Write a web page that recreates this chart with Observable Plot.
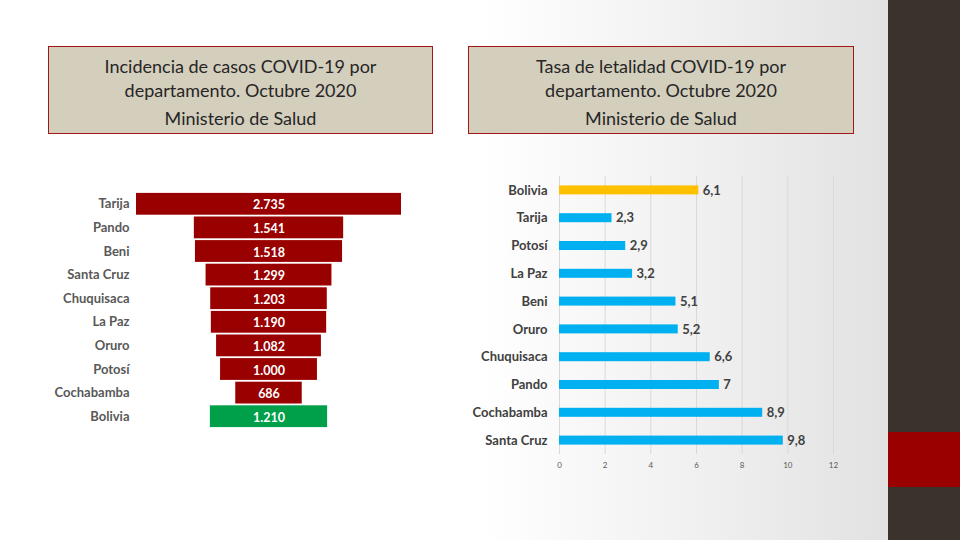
<!DOCTYPE html>
<html><head><meta charset="utf-8">
<script src="https://cdn.jsdelivr.net/npm/d3@7"></script>
<script src="https://cdn.jsdelivr.net/npm/@observablehq/plot@0.6"></script>
<style>
html,body{margin:0;padding:0;}
body{width:960px;height:540px;position:relative;overflow:hidden;font-family:Lato,"Open Sans",sans-serif;
 background:linear-gradient(to right,#ffffff 0px,#ffffff 480px,#f0f0f0 700px,#e2e2e2 888px);}
.band{position:absolute;left:888px;top:0;width:72px;height:540px;background:#3a322d;}
.redblock{position:absolute;left:888px;top:432px;width:72px;height:55px;background:#990000;}
.tbox{position:absolute;top:46px;height:88px;background:#d4cebd;border:1px solid #a01818;box-sizing:border-box;
 text-align:center;color:#262626;font-size:18px;line-height:24px;padding-top:7px;}
.tbox .src{margin-top:4px;}
#left{position:absolute;left:0;top:180px;}
#right{position:absolute;left:460px;top:170px;}
svg{display:block;}
</style></head>
<body>
<div class="band"></div><div class="redblock"></div>
<div class="tbox" style="left:48px;width:385px;">Incidencia de casos COVID-19 por<br>departamento. Octubre 2020<div class="src">Ministerio de Salud</div></div>
<div class="tbox" style="left:468px;width:386px;">Tasa de letalidad COVID-19 por<br>departamento. Octubre 2020<div class="src">Ministerio de Salud</div></div>
<div id="left"></div>
<div id="right"></div>
<script>
const incCats = ["Tarija","Pando","Beni","Santa Cruz","Chuquisaca","La Paz","Oruro","Potosí","Cochabamba","Bolivia"];
const incVals = [2735,1541,1518,1299,1203,1190,1082,1000,686,1210];
const letCats = ["Bolivia","Tarija","Potosí","La Paz","Beni","Oruro","Chuquisaca","Pando","Cochabamba","Santa Cruz"];
const letVals = [6.1,2.3,2.9,3.2,5.1,5.2,6.6,7,8.9,9.8];
const letTicks = [0,2,4,6,8,10,12];

const loc = d3.formatLocale({decimal:",",thousands:".",grouping:[3],currency:["",""]});
const fmtInc = loc.format(",d");
const fmtLet = v => String(v).replace(".", ",");

const inc = incCats.map((c,i)=>({cat:c,v:incVals[i]}));
const let_ = letCats.map((c,i)=>({cat:c,v:letVals[i]}));

const half = 1367.5;
const left = Plot.plot({
  width:460,height:260,marginLeft:136,marginRight:59,marginTop:12,marginBottom:12,
  style:{background:"transparent",fontFamily:"Lato, sans-serif"},
  x:{domain:[-half,half],axis:null},
  y:{domain:incCats,padding:0,round:false,label:null},
  marks:[
    Plot.barX(inc,{x1:d=>-d.v/2,x2:d=>d.v/2,y:"cat",insetTop:0.9,insetBottom:0.9,fill:d=>d.cat==="Bolivia"?"#00a04b":"#990000"}),
    Plot.text(inc,{x:0,y:"cat",text:d=>fmtInc(d.v),fill:"white",fontWeight:"bold",fontSize:12.5,dy:1}),
    Plot.axisY({tickSize:0,tickPadding:7,fontSize:13,fontWeight:"bold",color:"#595959",label:null})
  ]
});
document.getElementById("left").appendChild(left);

const right = Plot.plot({
  width:420,height:310,marginLeft:99,marginRight:47,marginTop:6,marginBottom:26,
  style:{background:"transparent",fontFamily:"Lato, sans-serif"},
  x:{domain:[0,12],label:null},
  y:{domain:letCats,padding:0,round:false,label:null},
  marks:[
    Plot.ruleX(letTicks,{stroke:"#d9d9d9",strokeWidth:1}),
    Plot.barX(let_,{x:"v",y:"cat",insetTop:9.4,insetBottom:9.4,fill:d=>d.cat==="Bolivia"?"#ffc000":"#00b0f0"}),
    Plot.text(let_,{x:"v",y:"cat",text:d=>fmtLet(d.v),textAnchor:"start",dx:4,fill:"#404040",fontSize:13,fontWeight:"bold"}),
    Plot.axisX({ticks:letTicks,tickSize:0,tickPadding:8,fontSize:8,color:"#595959",tickFormat:d=>String(d),label:null}),
    Plot.axisY({tickSize:0,tickPadding:12,fontSize:13,fontWeight:"bold",color:"#404040",label:null})
  ]
});
document.getElementById("right").appendChild(right);
</script>
</body></html>
